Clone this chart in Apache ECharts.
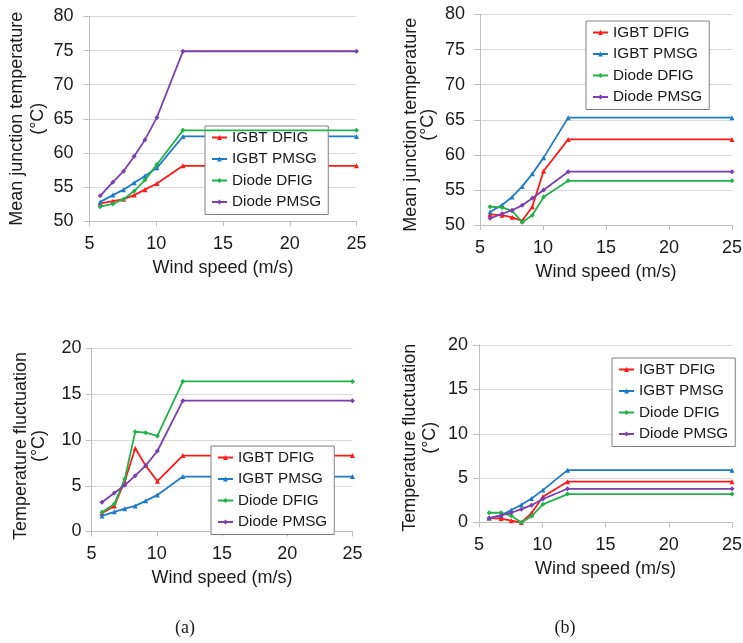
<!DOCTYPE html>
<html><head><meta charset="utf-8">
<script src="https://cdn.jsdelivr.net/npm/echarts@6/dist/echarts.min.js"></script>
<style>html,body{margin:0;padding:0;background:#fff}#c{width:743px;height:643px}</style>
</head><body><div id="c"></div>
<script>
// ---- data ----
const windSpeed = [5.8, 6.75, 7.55, 8.35, 9.15, 10.05, 12, 25];
const seriesNames = ['IGBT DFIG', 'IGBT PMSG', 'Diode DFIG', 'Diode PMSG'];
const xTicks = [5, 10, 15, 20, 25];
const meanTempTicks = [50, 55, 60, 65, 70, 75, 80];
const fluctTicks = [0, 5, 10, 15, 20];
const panelCaptions = ['(a)', '(b)'];
const xAxisTitle = 'Wind speed (m/s)';
const yTitleMean = 'Mean junction temperature\n(°C)';
const yTitleFluct = 'Temperature fluctuation\n(°C)';

// (a) mean junction temperature
const aMeanIgbtDFIG  = [52.6, 52.9, 53.2, 53.8, 54.6, 55.5, 58.1, 58.1];
const aMeanIgbtPMSG  = [52.8, 53.8, 54.6, 55.6, 56.6, 57.8, 62.4, 62.4];
const aMeanDiodeDFIG = [52.1, 52.5, 53.2, 54.4, 56.0, 58.3, 63.3, 63.3];
const aMeanDiodePMSG = [53.7, 55.7, 57.3, 59.5, 61.9, 65.2, 74.9, 74.9];
// (b) mean junction temperature
const bMeanIgbtDFIG  = [51.5, 51.4, 51.1, 50.6, 52.6, 57.7, 62.2, 62.2];
const bMeanIgbtPMSG  = [51.85, 52.85, 54.0, 55.5, 57.3, 59.6, 65.3, 65.3];
const bMeanDiodeDFIG = [52.6, 52.5, 52.0, 50.4, 51.4, 54.0, 56.3, 56.3];
const bMeanDiodePMSG = [50.95, 51.6, 52.1, 52.8, 53.8, 55.0, 57.6, 57.6];
// (a) temperature fluctuation
const aFlucIgbtDFIG  = [2.0, 2.8, 5.5, 9.1, 7.2, 5.5, 8.3, 8.3];
const aFlucIgbtPMSG  = [1.7, 2.15, 2.5, 2.8, 3.35, 4.0, 6.0, 6.0];
const aFlucDiodeDFIG = [2.1, 3.0, 5.75, 10.9, 10.8, 10.45, 16.4, 16.4];
const aFlucDiodePMSG = [3.2, 4.2, 5.05, 6.1, 7.2, 8.8, 14.3, 14.3];
// (b) temperature fluctuation
const bFlucIgbtDFIG  = [0.5, 0.45, 0.2, 0.0, 1.05, 2.9, 4.6, 4.6];
const bFlucIgbtPMSG  = [0.5, 0.8, 1.4, 2.0, 2.7, 3.65, 5.9, 5.9];
const bFlucDiodeDFIG = [1.1, 1.1, 0.75, 0.0, 0.7, 2.05, 3.2, 3.2];
const bFlucDiodePMSG = [0.5, 0.8, 1.1, 1.5, 1.95, 2.65, 3.8, 3.8];

// ---- styling ----
const colors = ['#ff1a1a', '#1f7ac8', '#22b24c', '#7a3fb0'];
const symbols = ['triangle', 'triangle', 'diamond', 'diamond'];
const FONT = '"Liberation Sans", Arial, sans-serif';
const TXT = '#1a1a1a';

const panels = [
  { grid: {left: 89.5, top: 16.5, width: 267, height: 204.5}, ticks: meanTempTicks, yTitle: yTitleMean,
    lh: 21, gap: 41, pad: [0,0,0,0], lblMargin: 16,
    data: [aMeanIgbtDFIG, aMeanIgbtPMSG, aMeanDiodeDFIG, aMeanDiodePMSG], legend: {left: 205, top: 126} },
  { grid: {left: 480, top: 14.5, width: 252, height: 210.5}, ticks: meanTempTicks, yTitle: yTitleMean,
    lh: 17, gap: 43, pad: [0,10,0,0], lblMargin: 15,
    data: [bMeanIgbtDFIG, bMeanIgbtPMSG, bMeanDiodeDFIG, bMeanDiodePMSG], legend: {left: 586, top: 21} },
  { grid: {left: 91.5, top: 348.5, width: 261, height: 183}, ticks: fluctTicks, yTitle: yTitleFluct,
    lh: 18, gap: 43, pad: [0,12,0,0], lblMargin: 10,
    data: [aFlucIgbtDFIG, aFlucIgbtPMSG, aFlucDiodeDFIG, aFlucDiodePMSG], legend: {left: 211, top: 446} },
  { grid: {left: 479, top: 345, width: 253, height: 177.5}, ticks: fluctTicks, yTitle: yTitleFluct,
    lh: 20, gap: 39, pad: [0,8,0,0], lblMargin: 11,
    data: [bFlucIgbtDFIG, bFlucIgbtPMSG, bFlucDiodeDFIG, bFlucDiodePMSG], legend: {left: 612, top: 358} }
];

const grids = [], xAxes = [], yAxes = [], series = [], legends = [];
panels.forEach((p, i) => {
  grids.push(Object.assign({outerBoundsMode: 'none', containLabel: false}, p.grid));
  xAxes.push({
    type: 'value', gridIndex: i, min: xTicks[0], max: xTicks[xTicks.length - 1], interval: xTicks[1] - xTicks[0],
    name: xAxisTitle, nameLocation: 'middle', nameGap: 38,
    nameTextStyle: {fontFamily: FONT, fontSize: 18, color: TXT},
    axisLine: {show: true, onZero: false, lineStyle: {color: '#bfbfbf', width: 1}},
    axisTick: {show: true, length: 5, lineStyle: {color: '#bfbfbf'}},
    axisLabel: {fontFamily: FONT, fontSize: 18, color: TXT, margin: 14},
    splitLine: {show: false}
  });
  yAxes.push({
    type: 'value', gridIndex: i, min: p.ticks[0], max: p.ticks[p.ticks.length - 1], interval: p.ticks[1] - p.ticks[0],
    name: p.yTitle, nameLocation: 'middle', nameGap: p.gap, nameRotate: 90,
    nameTextStyle: {fontFamily: FONT, fontSize: 18, color: TXT, lineHeight: p.lh, padding: p.pad},
    axisLine: {show: true, lineStyle: {color: '#bfbfbf', width: 1}},
    axisTick: {show: true, length: 6, lineStyle: {color: '#bfbfbf'}},
    axisLabel: {fontFamily: FONT, fontSize: 18, color: TXT, margin: p.lblMargin},
    splitLine: {show: true, lineStyle: {color: '#d9d9d9', width: 1}}
  });
  p.data.forEach((vals, k) => {
    series.push({
      type: 'line', name: seriesNames[k], xAxisIndex: i, yAxisIndex: i,
      data: windSpeed.map((w, j) => [w, vals[j]]),
      symbol: symbols[k], symbolSize: 5, showSymbol: true,
      lineStyle: {color: colors[k], width: 1.8},
      itemStyle: {color: colors[k]},
      z: 2 + k
    });
  });
  legends.push({
    left: p.legend.left, top: p.legend.top, orient: 'vertical',
    data: seriesNames, selectedMode: false,
    itemWidth: 15, itemHeight: 6, itemGap: 6.5,
    padding: [4, 7, 5, 6],
    backgroundColor: '#ffffff', borderColor: '#808080', borderWidth: 1,
    textStyle: {fontFamily: FONT, fontSize: 15.3, color: TXT, lineHeight: 14}
  });
});

const chart = echarts.init(document.getElementById('c'), null, {renderer: 'canvas'});
chart.setOption({
  backgroundColor: '#ffffff',
  animation: false,
  grid: grids, xAxis: xAxes, yAxis: yAxes, series: series, legend: legends,
  graphic: [
    {type: 'text', x: 185, y: 628, style: {text: panelCaptions[0], fontFamily: '"Liberation Serif", "Times New Roman", serif', fontSize: 18, fill: TXT, align: 'center', verticalAlign: 'middle'}},
    {type: 'text', x: 565, y: 628, style: {text: panelCaptions[1], fontFamily: '"Liberation Serif", "Times New Roman", serif', fontSize: 18, fill: TXT, align: 'center', verticalAlign: 'middle'}}
  ]
});
</script>
</body></html>
